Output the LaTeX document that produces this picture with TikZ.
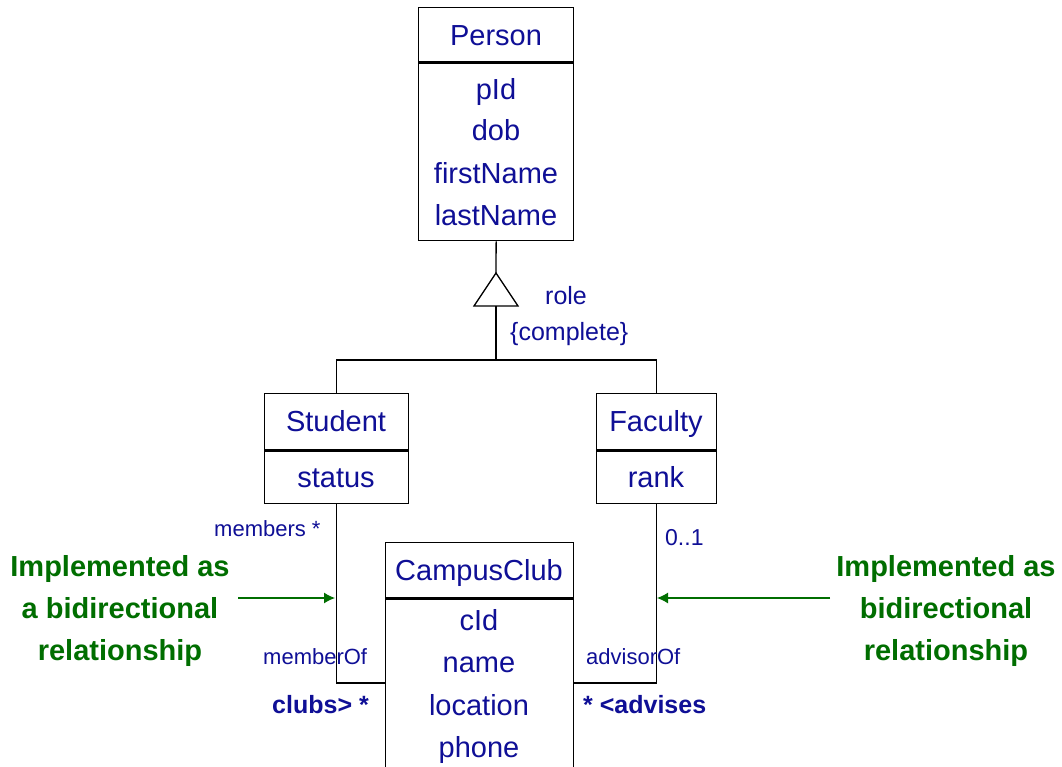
\documentclass[tikz,border=0pt]{standalone}
\usepackage{fontspec}
\setmainfont{Liberation Sans}
\usetikzlibrary{arrows.meta}
\definecolor{umlblue}{RGB}{15,15,150}
\definecolor{umlgreen}{RGB}{0,110,0}
\begin{document}
\begin{tikzpicture}[x=1pt,y=-1pt,
  box/.style={draw=black,line width=1.3pt,inner sep=0pt,anchor=north west},
  divider/.style={draw=black,line width=2.4pt},
  conn/.style={draw=black,line width=1.3pt},
  big/.style={text=umlblue,font=\fontsize{29}{34}\selectfont,anchor=base,inner sep=0pt},
  mid/.style={text=umlblue,font=\fontsize{25}{30}\selectfont,anchor=base west,inner sep=0pt},
  small/.style={text=umlblue,font=\fontsize{22}{26}\selectfont,anchor=base west,inner sep=0pt},
  role/.style={text=umlblue,font=\fontsize{25}{30}\selectfont\bfseries,anchor=base west,inner sep=0pt},
  note/.style={text=umlgreen,font=\fontsize{29}{42}\selectfont\bfseries,align=center,anchor=base,inner sep=0pt},
  garrow/.style={draw=umlgreen,line width=1.2pt,-{Latex[length=11pt,width=11pt]}}]
\clip (0,0) rectangle (1062,766);
\fill[white] (0,0) rectangle (1062,766);
% Person
\node[box,minimum width=155,minimum height=54] (personH) at (418,7) {};
\node[box,minimum width=155,minimum height=179] (personB) at (418,61) {};
\draw[divider] (personH.south west) -- (personH.south east);
\node[big] (tPerson) at (496,45) {Person};
\node[big] (tpId) at (496,99) {pId};
\node[big] (tdob) at (496,140) {dob};
\node[big] (tfirst) at (496,183) {firstName};
\node[big] (tlast) at (496,225) {lastName};
% Student
\node[box,minimum width=144,minimum height=56] (studentH) at (264,393) {};
\node[box,minimum width=144,minimum height=54] (studentB) at (264,449) {};
\draw[divider] (studentH.south west) -- (studentH.south east);
\node[big] (tStudent) at (336,431) {Student};
\node[big] (tstatus) at (336,487) {status};
% Faculty
\node[box,minimum width=120,minimum height=56] (facultyH) at (596,393) {};
\node[box,minimum width=120,minimum height=54] (facultyB) at (596,449) {};
\draw[divider] (facultyH.south west) -- (facultyH.south east);
\node[big] (tFaculty) at (656,431) {Faculty};
\node[big] (trank) at (656,487) {rank};
% CampusClub
\node[box,minimum width=188,minimum height=55] (clubH) at (385,542) {};
\node[box,minimum width=188,minimum height=240] (clubB) at (385,597) {};
\draw[divider] (clubH.south west) -- (clubH.south east);
\node[big] (tClub) at (479,580) {CampusClub};
\node[big] (tcId) at (479,630) {cId};
\node[big] (tname) at (479,672) {name};
\node[big] (tloc) at (479,715) {location};
\node[big] (tphone) at (479,757) {phone};
% generalization
\coordinate (apex) at (496,273);
\coordinate (triL) at (474,306);
\coordinate (triR) at (518,306);
\coordinate (triBase) at (496,306);
\coordinate (junction) at (496,360);
\draw[conn] (personB.south) -- (apex);
\draw[conn,line join=miter] (apex) -- (triR) -- (triL) -- cycle;
\draw[conn] (triBase) -- (junction);
\draw[conn] (studentH.north) |- (junction) -| (facultyH.north);
\node[mid] (trole) at (545,304) {role};
\node[mid] (tcomplete) at (510,340) {\{complete\}};
% associations
\coordinate (clubL) at (385,683);
\coordinate (clubR) at (573,683);
\draw[conn] (studentB.south) |- (clubL);
\draw[conn] (facultyB.south) |- (clubR);
\node[small] (tmembers) at (214,536) {members *};
\node[small] (tmemberOf) at (263,664) {memberOf};
\node[role] (tclubs) at (272,713) {clubs> *};
\node[mid,font=\fontsize{23}{28}\selectfont] (t01) at (665,545) {0..1};
\node[small] (tadvisorOf) at (586,664) {advisorOf};
\node[role] (tadvises) at (583,713) {* <advises};
% notes
\node[note] (noteL) at (120,660) {Implemented as\\a bidirectional\\relationship};
\node[note] (noteR) at (946,660) {Implemented as\\bidirectional\\relationship};
\coordinate (lstart) at (238,598);
\coordinate (lend) at (335,598);
\coordinate (rstart) at (830,598);
\coordinate (rend) at (657,598);
\draw[garrow] (lstart) -- (lend);
\draw[garrow] (rstart) -- (rend);
\end{tikzpicture}
\end{document}
